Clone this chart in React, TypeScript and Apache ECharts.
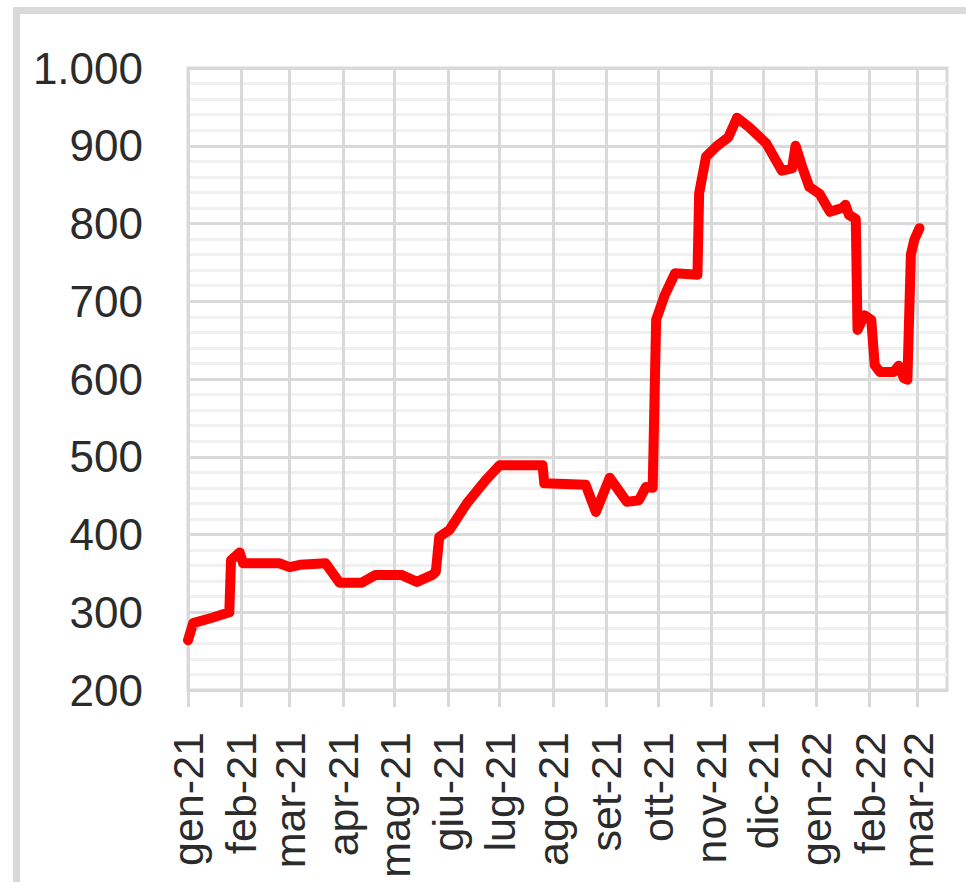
import React, { useEffect, useRef } from "react";
import * as echarts from "echarts";

const monthTicks = [
  "2021-01-01", "2021-02-01", "2021-03-01", "2021-04-01", "2021-05-01",
  "2021-06-01", "2021-07-01", "2021-08-01", "2021-09-01", "2021-10-01",
  "2021-11-01", "2021-12-01", "2022-01-01", "2022-02-01", "2022-03-01",
];
const monthLabels = [
  "gen-21", "feb-21", "mar-21", "apr-21", "mag-21", "giu-21", "lug-21",
  "ago-21", "set-21", "ott-21", "nov-21", "dic-21", "gen-22", "feb-22", "mar-22",
];

const dates = [
  "2021-01-01", "2021-01-04", "2021-01-15", "2021-01-25", "2021-01-26", "2021-01-31",
  "2021-02-02", "2021-02-23", "2021-03-01", "2021-03-07", "2021-03-22", "2021-03-30",
  "2021-04-12", "2021-04-20", "2021-05-05", "2021-05-14", "2021-05-23", "2021-05-25",
  "2021-05-27", "2021-06-02", "2021-06-12", "2021-06-23", "2021-07-01", "2021-07-26",
  "2021-07-27", "2021-08-20", "2021-08-26", "2021-09-03", "2021-09-13", "2021-09-20",
  "2021-09-24", "2021-09-28", "2021-09-30", "2021-10-05", "2021-10-11", "2021-10-24",
  "2021-10-25", "2021-10-29", "2021-11-04", "2021-11-11", "2021-11-16", "2021-11-23",
  "2021-12-03", "2021-12-12", "2021-12-18", "2021-12-20", "2021-12-24", "2021-12-28",
  "2022-01-03", "2022-01-09", "2022-01-16", "2022-01-18", "2022-01-20", "2022-01-24",
  "2022-01-25", "2022-01-29", "2022-02-02", "2022-02-04", "2022-02-07", "2022-02-15",
  "2022-02-18", "2022-02-21", "2022-02-23", "2022-02-25", "2022-02-27", "2022-03-02",
];
const prices = [
  264, 286, 293, 300, 367, 377,
  363, 363, 358, 361, 363, 338,
  338, 348, 348, 339, 348, 352,
  397, 406, 440, 470, 489, 489,
  466, 464, 429, 473, 442, 444,
  461, 460, 676, 708, 736, 734,
  839, 886, 899, 911, 936, 924,
  903, 868, 871, 900, 872, 847,
  838, 815, 820, 824, 811, 806,
  663, 682, 676, 618, 609, 609,
  617, 601, 599, 760, 779, 794,
];

const axisStart = "2021-01-01";
const axisEnd = "2022-03-18";
const yMin = 200;
const yMax = 1000;
const yStep = 100;

function ts(s: string): number {
  const [y, m, d] = s.split("-").map(Number);
  return Date.UTC(y, m - 1, d);
}

function fmtIt(v: number): string {
  const s = String(Math.round(v));
  return s.replace(/\B(?=(\d{3})+(?!\d))/g, ".");
}

export default function App() {
  const ref = useRef<HTMLDivElement>(null);
  useEffect(() => {
    if (!ref.current) return;
    const chart = echarts.init(ref.current, null, { renderer: "svg" });
    const tickVals = monthTicks.map(ts);
    const labelMap = new Map<number, string>();
    tickVals.forEach((t, i) => labelMap.set(t, monthLabels[i]));
    const font = "'Liberation Sans', Arial, sans-serif";
    chart.setOption({
      animation: false,
      backgroundColor: "#ffffff",
      graphic: [
        {
          type: "rect",
          shape: { x: 16.5, y: 10.5, width: 1000, height: 1000 },
          style: { fill: "none", stroke: "#d9d9d9", lineWidth: 7 },
          silent: true,
          z: 0,
        },
      ],
      grid: {
        left: 188,
        right: 19,
        top: 68,
        bottom: 192,
        show: true,
        borderColor: "#d9d9d9",
        borderWidth: 3,
      },
      xAxis: {
        type: "value",
        min: ts(axisStart),
        max: ts(axisEnd),
        axisLine: { show: true, lineStyle: { color: "#d9d9d9", width: 3 } },
        axisTick: {
          show: true,
          length: 17,
          customValues: tickVals,
          lineStyle: { color: "#d9d9d9", width: 3 },
        },
        splitLine: { show: true, lineStyle: { color: "#d9d9d9", width: 3 } },
        axisLabel: {
          customValues: tickVals,
          rotate: 90,
          margin: 42,
          fontSize: 43,
          fontFamily: font,
          color: "#2b2b2b",
          formatter: (v: number) => labelMap.get(v) ?? "",
        },
      },
      yAxis: {
        type: "value",
        min: yMin,
        max: yMax,
        interval: yStep,
        axisLine: { show: false },
        axisTick: { show: false },
        splitLine: { show: true, lineStyle: { color: "#d9d9d9", width: 3 } },
        minorTick: { show: false, splitNumber: 5 },
        minorSplitLine: { show: true, lineStyle: { color: "#f0f0f0", width: 3 } },
        axisLabel: {
          margin: 45,
          fontSize: 44,
          fontFamily: font,
          color: "#2b2b2b",
          formatter: (v: number) => fmtIt(v),
        },
      },
      series: [
        {
          type: "line",
          data: dates.map((d, i) => [ts(d), prices[i]]),
          showSymbol: false,
          symbol: "none",
          lineStyle: { color: "#ff0000", width: 10, cap: "round", join: "round" },
          z: 5,
        },
      ],
    });
    return () => chart.dispose();
  }, []);
  return (
    <div
      ref={ref}
      style={{ position: "absolute", left: 0, top: 0, width: 966, height: 882, background: "#fff" }}
    />
  );
}
